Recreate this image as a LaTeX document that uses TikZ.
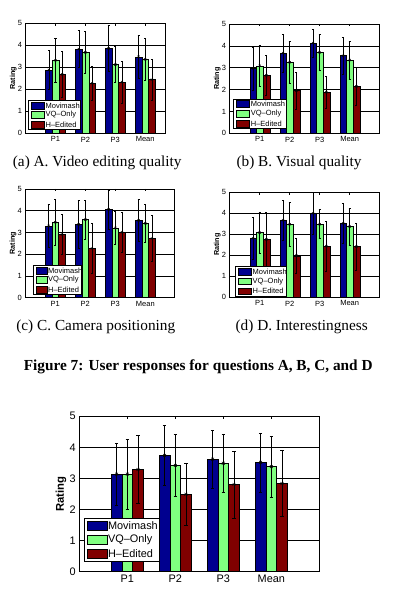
\documentclass[tikz,border=0pt]{standalone}
\usepackage{fontspec}
\setmainfont{Liberation Serif}
\setsansfont{Liberation Sans}
\usetikzlibrary{positioning,calc}
\definecolor{barc1}{rgb}{0,0,0.5625}
\definecolor{barc2}{rgb}{0.5,1,0.5}
\definecolor{barc3}{rgb}{0.5,0,0}

\newcommand\ratingchart[7]{%
	\foreach \y in {1,...,4} \draw[gridline] (0,\y) -- (#2,\y);
	\foreach \g/\lbl/\vals in {#3} {
		\draw[axisline] (\g,0) -- ++(0,2.5pt) (\g,5) -- ++(0,-2.5pt);
		\node[anchor=north] (#1-x\g) at (\g,0) {\lbl};
		\foreach \v/\s [count=\k] in \vals {
			\draw[barbox, fill=barc\k] ({\g+(\k-2.5)*0.2222},0) rectangle ++(0.2222,\v);
			\draw[errbar] ({\g+(\k-2)*0.2222},{\v-\s}) -- ({\g+(\k-2)*0.2222},{\v+\s})
				({\g+(\k-2)*0.2222-0.035},{\v-\s}) -- ++(0.07,0)
				({\g+(\k-2)*0.2222-0.035},{\v+\s}) -- ++(0.07,0);
			\draw[errbar] plot[only marks, mark=x] coordinates {({\g+(\k-2)*0.2222},\v)};
		}
	}
	\draw[axisline] (0,0) rectangle (#2,5);
	\foreach \y in {0,...,5} \node[anchor=east] (#1-y\y) at (0,\y) {\y};
	\node[ratinglabel] (#1-rating) at (0,2.5) {Rating};
	\draw[legbox] (#4,#5) rectangle (#6,#7);
	\foreach \c/\t [count=\k] in {barc1/Movimash, barc2/VQ\textendash Only, barc3/H\textendash Edited} {
		\node[swatch, fill=\c] (#1-sw\k) at ($(#4,#7)!{(2*\k-1)/6}!(#4,#5)$) {};
		\node[lgtext, right=1pt of #1-sw\k] (#1-lg\k) {\t};
	}
}

\begin{document}
\begin{tikzpicture}[x=1pt,y=1pt]
	\tikzset{gridline/.style={line width=0.5pt},
		axisline/.style={line width=0.6pt},
		barbox/.style={line width=0.4pt},
		errbar/.style={line width=0.5pt},
		legbox/.style={fill=white, line width=0.5pt},
		lgtext/.style={inner sep=0pt},
		small chart/.style={font=\fontsize{7.5}{8}\selectfont\sffamily, mark size=1.5pt,
			ratinglabel/.style={xshift=-12.3pt, rotate=90, font=\fontsize{7.2}{8}\selectfont\sffamily\bfseries},
			swatch/.style={draw, line width=0.4pt, minimum width=13pt, minimum height=6.7pt,
				inner sep=0pt, anchor=west, xshift=3pt}},
		big chart/.style={font=\fontsize{10.9}{12}\selectfont\sffamily, mark size=2pt,
			ratinglabel/.style={xshift=-18.3pt, rotate=90, font=\fontsize{11.3}{13}\selectfont\sffamily\bfseries},
			swatch/.style={draw, line width=0.4pt, minimum width=19.4pt, minimum height=9.3pt,
				inner sep=0pt, anchor=west, xshift=3pt}},
		subcap/.style={font=\fontsize{15.3}{18}\selectfont, anchor=base}}
	\useasboundingbox (0,0) rectangle (402,596);
	% A. Video editing quality
	\begin{scope}[shift={(25.6,462.7)}, x=29.9pt, y=22pt, small chart]
		\ratingchart{qa}{4.68}{1/P1/{2.88/0.9,3.32/1.0,2.68/1.04}, 2/P2/{3.83/0.85,3.68/0.94,2.27/0.77},
			3/P3/{3.86/1.03,3.12/0.82,2.33/0.95}, 4/Mean/{3.48/0.97,3.36/0.94,2.44/0.92}}{0.08}{0.18}{1.82}{1.48}
	\end{scope}
	% B. Visual quality
	\begin{scope}[shift={(229.7,462.7)}, x=30pt, y=21.86pt, small chart]
		\ratingchart{qb}{5}{1/P1/{2.96/0.97,3.09/0.92,2.65/0.9}, 2/P2/{3.67/0.88,3.25/0.97,1.95/0.86},
			3/P3/{4.13/0.64,3.70/0.82,1.88/0.74}, 4/Mean/{3.55/0.86,3.35/0.88,2.15/0.85}}{0.12}{0.23}{1.87}{1.56}
	\end{scope}
	% C. Camera positioning
	\begin{scope}[shift={(25.3,298.3)}, x=30pt, y=21.74pt, small chart, swatch/.append style={minimum width=10.7pt}]
		\ratingchart{qc}{4.97}{1/P1/{3.30/1.0,3.47/1.05,2.91/0.92}, 2/P2/{3.37/1.09,3.59/0.89,2.27/1.15},
			3/P3/{4.06/0.9,3.21/0.77,3.01/0.92}, 4/Mean/{3.56/0.97,3.42/0.87,2.73/1.06}}{0.25}{0.16}{1.88}{1.47}
	\end{scope}
	% D. Interestingness
	\begin{scope}[shift={(229.7,298.7)}, x=30pt, y=21pt, small chart]
		\ratingchart{qd}{5}{1/P1/{2.81/1.0,3.08/0.97,2.76/1.29}, 2/P2/{3.67/0.93,3.48/1.05,1.98/0.82},
			3/P3/{4.0/1.0,3.48/0.69,2.44/1.2}, 4/Mean/{3.52/0.97,3.37/0.87,2.41/1.1}}{0.18}{0.06}{1.88}{1.46}
	\end{scope}
	% all questions
	\begin{scope}[shift={(79.3,24.3)}, x=48pt, y=31.08pt, big chart]
		\ratingchart{all}{5}{1/P1/{3.14/1.0,3.14/1.12,3.29/1.1}, 2/P2/{3.74/0.97,3.42/1.0,2.49/1.0},
			3/P3/{3.62/0.92,3.49/0.93,2.81/1.08}, 4/Mean/{3.52/0.95,3.38/0.99,2.84/1.07}}{0.10}{0.34}{1.67}{1.72}
	\end{scope}
	\node[subcap] (cap-a) at (97.2,429.5) {(a) A. Video editing quality};
	\node[subcap] (cap-b) at (299,429.5) {(b) B. Visual quality};
	\node[subcap] (cap-c) at (95.8,265.5) {(c) C. Camera positioning};
	\node[subcap] (cap-d) at (301.7,265.5) {(d) D. Interestingness};
	\node[subcap, font=\fontsize{15.3}{18}\selectfont\bfseries] (cap-fig) at (198.2,225.3)
		{Figure 7: User responses for questions A, B, C, and D};
\end{tikzpicture}
\end{document}
